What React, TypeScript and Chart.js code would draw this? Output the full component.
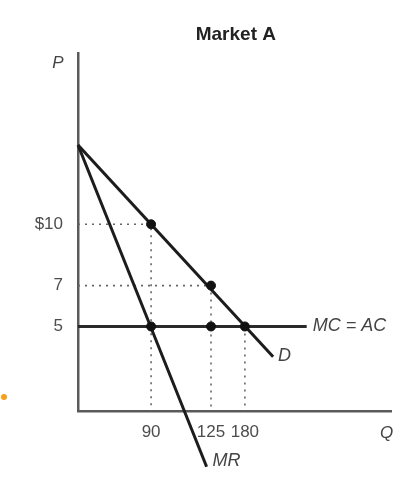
import React, { useEffect, useRef } from "react";
import { Chart, registerables } from "chart.js";

Chart.register(...registerables);

// ---- data (price axis in $, quantity axis is schematic: labelled points placed as drawn) ----
const P_MIN = 0.84;
const P_MAX = 18.38;
const Q_MAX = 100;
const P_TICKS = [5, 7, 10];
const P_TICK_LABELS = ["5", "7", "$10"];
const Q_TICK_POS = [23.3, 42.4, 53.2];
const Q_TICK_LABELS = ["90", "125", "180"];

const P_INTERCEPT = 13.88;
const DEMAND_END_Q = 62.2;
const DEMAND_END_P = 3.52;
const MR_END_Q = 41.0;
const MR_END_P = -1.86;
const MC_LEVEL = 5;
const MC_END_Q = 72.9;

const DOT_Q = [23.3, 42.4, 23.3, 42.4, 53.2];
const DOT_P = [10, 7, 5, 5, 5];

const GUIDE_Q = [23.3, 42.4, 53.2];
const GUIDE_P = [10, 7, 5];
const GUIDE_HORIZONTAL = [true, true, false];

const FONT = '"Liberation Sans", Arial, sans-serif';

const labelsPlugin = {
  id: "econLabels",
  afterDraw(chart: any) {
    const { ctx, chartArea, scales } = chart;
    const x = scales.x;
    const y = scales.y;
    ctx.save();
    ctx.textBaseline = "middle";
    // title
    ctx.fillStyle = "#222";
    ctx.font = `bold 19px ${FONT}`;
    ctx.textAlign = "center";
    ctx.fillText("Market A", (chartArea.left + chartArea.right) / 2 + 1, chartArea.top - 18);
    // axis names
    ctx.fillStyle = "#444";
    ctx.font = `italic 17px ${FONT}`;
    ctx.textAlign = "center";
    ctx.fillText("P", chartArea.left - 20, chartArea.top + 10);
    ctx.fillText("Q", chartArea.right - 5, chartArea.bottom + 22);
    // curve names
    ctx.font = `italic 18px ${FONT}`;
    ctx.textAlign = "left";
    ctx.fillText("D", x.getPixelForValue(DEMAND_END_Q) + 5, y.getPixelForValue(DEMAND_END_P) - 1);
    ctx.fillText("MC = AC", x.getPixelForValue(MC_END_Q) + 6, y.getPixelForValue(MC_LEVEL));
    ctx.fillText("MR", x.getPixelForValue(MR_END_Q) + 6, y.getPixelForValue(MR_END_P) - 6);
    ctx.restore();
  },
};

export default function App() {
  const ref = useRef<HTMLCanvasElement | null>(null);

  useEffect(() => {
    if (!ref.current) return;
    const lineColor = "#1c1c1c";
    const guides = GUIDE_Q.map((q, i) => {
      const p = GUIDE_P[i];
      const pts = GUIDE_HORIZONTAL[i]
        ? [
            { x: 0, y: p },
            { x: q, y: p },
            { x: q, y: P_MIN },
          ]
        : [
            { x: q, y: p },
            { x: q, y: P_MIN },
          ];
      return {
        data: pts,
        showLine: true,
        pointRadius: 0,
        borderColor: "#666",
        borderWidth: 1.6,
        borderDash: [2, 5],
      };
    });

    const chart = new Chart(ref.current, {
      type: "scatter",
      data: {
        datasets: [
          {
            data: DOT_Q.map((q, i) => ({ x: q, y: DOT_P[i] })),
            pointRadius: 4.5,
            backgroundColor: "#111",
            borderColor: "#111",
            showLine: false,
          },
          {
            data: [
              { x: 0, y: P_INTERCEPT },
              { x: DEMAND_END_Q, y: DEMAND_END_P },
            ],
            showLine: true,
            pointRadius: 0,
            borderColor: lineColor,
            borderWidth: 3,
          },
          {
            data: [
              { x: 0, y: P_INTERCEPT },
              { x: MR_END_Q, y: MR_END_P },
            ],
            showLine: true,
            pointRadius: 0,
            borderColor: lineColor,
            borderWidth: 3,
            clip: false,
          },
          {
            data: [
              { x: 0, y: MC_LEVEL },
              { x: MC_END_Q, y: MC_LEVEL },
            ],
            showLine: true,
            pointRadius: 0,
            borderColor: "#2a2a2a",
            borderWidth: 3,
          },
          ...guides,
        ] as any,
      },
      options: {
        animation: false,
        responsive: false,
        events: [],
        layout: { padding: { top: 53, right: 18.3, left: 0, bottom: 0 } },
        plugins: { legend: { display: false }, tooltip: { enabled: false }, title: { display: false } },
        scales: {
          x: {
            type: "linear",
            min: 0,
            max: Q_MAX,
            grid: { display: false, drawTicks: false },
            border: { display: true, color: "#5a5a5a", width: 2.5 },
            afterFit: (s: any) => {
              s.height = 65.5;
            },
            afterBuildTicks: (s: any) => {
              s.ticks = Q_TICK_POS.map((v) => ({ value: v }));
            },
            ticks: {
              padding: 11,
              color: "#4d4d4d",
              font: { family: FONT, size: 17 },
              maxRotation: 0,
              autoSkip: false,
              callback: (v: any) => {
                const i = Q_TICK_POS.indexOf(Number(v));
                return i >= 0 ? Q_TICK_LABELS[i] : "";
              },
            },
          },
          y: {
            type: "linear",
            min: P_MIN,
            max: P_MAX,
            grid: { display: false, drawTicks: false },
            border: { display: true, color: "#5a5a5a", width: 2.5 },
            afterFit: (s: any) => {
              s.width = 78;
            },
            afterBuildTicks: (s: any) => {
              s.ticks = P_TICKS.map((v) => ({ value: v }));
            },
            ticks: {
              padding: 15,
              color: "#4d4d4d",
              font: { family: FONT, size: 17 },
              autoSkip: false,
              callback: (v: any) => {
                const i = P_TICKS.indexOf(Number(v));
                return i >= 0 ? P_TICK_LABELS[i] : "";
              },
            },
          },
        },
      } as any,
      plugins: [labelsPlugin],
    });
    return () => chart.destroy();
  }, []);

  return (
    <div style={{ position: "fixed", left: 0, top: 0, width: 410, height: 477, background: "#fff" }}>
      <canvas ref={ref} width={410} height={477} style={{ display: "block" }} />
      <div
        style={{
          position: "absolute",
          left: 1,
          top: 394,
          width: 6,
          height: 6,
          borderRadius: "50%",
          background: "#f5a21b",
        }}
      />
    </div>
  );
}
